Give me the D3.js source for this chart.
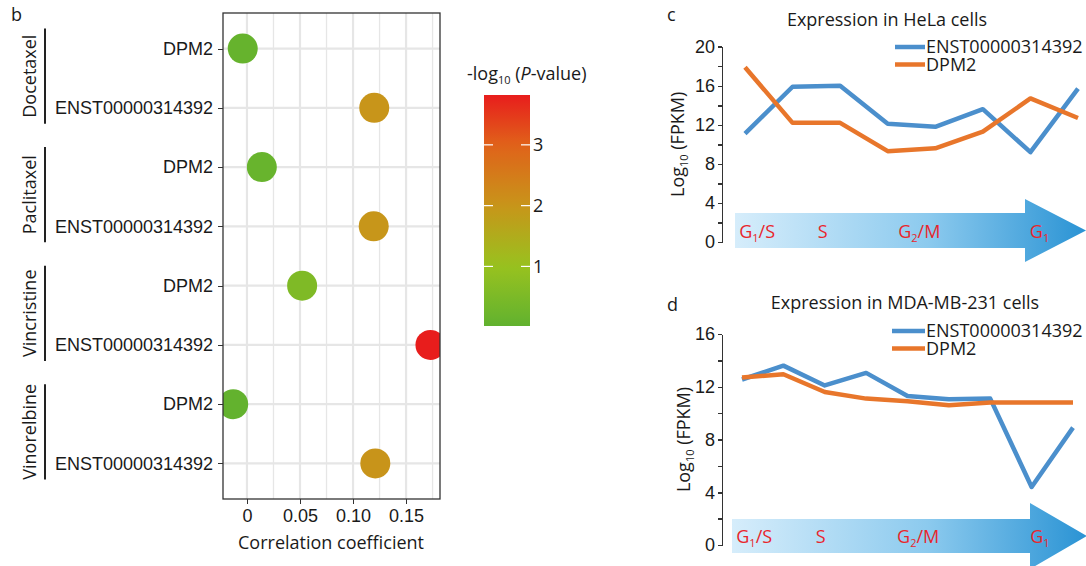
<!DOCTYPE html>
<html lang="en">
<head>
<meta charset="UTF-8">
<title>Correlation and expression</title>
<script src="https://cdnjs.cloudflare.com/ajax/libs/d3/7.8.5/d3.min.js"></script>
<style>
    body { margin: 0; background: #fff; }
    svg { display: block; font-family: "Open Sans", sans-serif; }
    .axis path, .axis line { stroke: #333; shape-rendering: crispEdges; }
    .axis text { fill: #1a1a1a; }
    .grid line { stroke: #e6e6e6; }
</style>
</head>
<body>
<script>
    // ---- data ----
    var drugs = ["Docetaxel", "Paclitaxel", "Vincristine", "Vinorelbine"];
    var genes = ["DPM2", "ENST00000314392"];
    // one value per drug x gene, in drug order then gene order
    var corr = [-0.004, 0.120, 0.014, 0.1195, 0.052, 0.173, -0.013, 0.121];
    var logP = [0.1, 2.0, 0.15, 1.98, 0.55, 3.82, 0.05, 2.02];
    var corrTicks = [0, 0.05, 0.10, 0.15];
    var pTicks = [1, 2, 3];

    var phases = [["G", "1", "/S"], ["S", "", ""], ["G", "2", "/M"], ["G", "1", ""]];
    var helaEnst = [11.1, 15.9, 16.0, 12.1, 11.8, 13.6, 9.2, 15.7];
    var helaDpm2 = [17.9, 12.2, 12.2, 9.3, 9.6, 11.3, 14.7, 12.7];
    var helaTicks = [0, 4, 8, 12, 16, 20];
    var mdaEnst = [12.55, 13.6, 12.1, 13.05, 11.3, 11.05, 11.1, 4.4, 8.9];
    var mdaDpm2 = [12.7, 12.95, 11.6, 11.1, 10.9, 10.6, 10.8, 10.8, 10.8];
    var mdaTicks = [0, 4, 8, 12, 16];

    var blue = "#4b8fcc", orange = "#e8762b", phaseRed = "#e8262c";
    var fs = 18;

    var svg = d3.select("body").append("svg")
        .attr("width", 1086).attr("height", 566);

    // ================= panel b =================
    var rows = [];
    drugs.forEach(function(d, i) {
        genes.forEach(function(g, j) {
            rows.push({ id: d + "|" + g, drug: d, gene: g, r: corr[i * 2 + j], p: logP[i * 2 + j] });
        });
    });

    var xB = d3.scaleLinear().domain([-0.0226, 0.182]).range([223, 440]);
    var yB = d3.scalePoint().domain(rows.map(function(d) { return d.id; })).range([13, 499]).padding(0.6);
    var color = d3.scaleLinear()
        .domain([0, 1, 2, 3, 3.82])
        .range(["#60b12f", "#98c21f", "#c8951a", "#e0621a", "#e81d1c"]);

    // grid
    var grid = svg.append("g").attr("class", "grid");
    var minor = corrTicks.map(function(t) { return t + 0.025; });
    grid.selectAll(".gminor").data(minor).enter().append("line")
        .attr("x1", xB).attr("x2", xB).attr("y1", 13).attr("y2", 499)
        .attr("stroke-width", 1.3);
    grid.selectAll(".gmajor").data(corrTicks).enter().append("line")
        .attr("x1", xB).attr("x2", xB).attr("y1", 13).attr("y2", 499)
        .attr("stroke-width", 2.2);
    grid.selectAll(".grow").data(rows).enter().append("line")
        .attr("x1", 223).attr("x2", 440)
        .attr("y1", function(d) { return yB(d.id); })
        .attr("y2", function(d) { return yB(d.id); })
        .attr("stroke-width", 2.2);

    svg.append("clipPath").attr("id", "clipB")
        .append("rect").attr("x", 223).attr("y", 13).attr("width", 217).attr("height", 486);

    svg.append("g").attr("clip-path", "url(#clipB)")
        .selectAll("circle").data(rows).enter().append("circle")
        .attr("cx", function(d) { return xB(d.r); })
        .attr("cy", function(d) { return yB(d.id); })
        .attr("r", 15)
        .attr("fill", function(d) { return color(d.p); });

    svg.append("rect").attr("x", 223).attr("y", 13).attr("width", 217).attr("height", 486)
        .attr("fill", "none").attr("stroke", "#333").attr("stroke-width", 1.3);

    svg.append("g").attr("class", "axis")
        .attr("transform", "translate(0,499)")
        .call(d3.axisBottom(xB).tickValues(corrTicks).tickSize(5).tickPadding(5)
            .tickFormat(function(d) { return d === 0 ? "0" : d3.format(".2f")(d); }))
        .call(function(g) { g.select(".domain").remove(); })
        .selectAll("text").style("font-size", fs + "px");

    svg.append("g").attr("class", "axis")
        .attr("transform", "translate(223,0)")
        .call(d3.axisLeft(yB).tickSize(5).tickPadding(5)
            .tickFormat(function(d) { return d.split("|")[1]; }))
        .call(function(g) { g.select(".domain").remove(); })
        .selectAll("text").style("font-size", fs + "px");

    svg.append("text").attr("x", 331).attr("y", 549).attr("text-anchor", "middle")
        .style("font-size", fs + "px").attr("fill", "#1a1a1a").text("Correlation coefficient");

    // drug brackets
    drugs.forEach(function(d) {
        var y0 = yB(d + "|" + genes[0]), y1 = yB(d + "|" + genes[1]);
        svg.append("line").attr("x1", 45).attr("x2", 45)
            .attr("y1", y0 - 20).attr("y2", y1 + 16)
            .attr("stroke", "#222").attr("stroke-width", 2);
        svg.append("text")
            .attr("transform", "translate(36," + ((y0 + y1) / 2 - 2) + ") rotate(-90)")
            .attr("text-anchor", "middle")
            .style("font-size", fs + "px").attr("fill", "#1a1a1a").text(d);
    });

    svg.append("text").attr("x", 11).attr("y", 21).style("font-size", fs + "px").attr("fill", "#1a1a1a").text("b");

    // colour bar
    var yP = d3.scaleLinear().domain([0.02, 3.82]).range([326, 95]);
    var grad = svg.append("defs").append("linearGradient").attr("id", "pgrad")
        .attr("x1", 0).attr("y1", 1).attr("x2", 0).attr("y2", 0);
    d3.range(0, 1.0001, 0.05).forEach(function(t) {
        var v = 0.02 + t * 3.8;
        grad.append("stop").attr("offset", t).attr("stop-color", color(v));
    });
    svg.append("rect").attr("x", 484).attr("y", 95).attr("width", 46).attr("height", 231)
        .attr("fill", "url(#pgrad)");
    pTicks.forEach(function(t) {
        svg.append("line").attr("x1", 484).attr("x2", 493).attr("y1", yP(t)).attr("y2", yP(t))
            .attr("stroke", "#fff").attr("stroke-width", 1.2);
        svg.append("line").attr("x1", 521).attr("x2", 530).attr("y1", yP(t)).attr("y2", yP(t))
            .attr("stroke", "#fff").attr("stroke-width", 1.2);
        svg.append("text").attr("x", 533).attr("y", yP(t)).attr("dy", "0.35em")
            .style("font-size", fs + "px").attr("fill", "#1a1a1a").text(t);
    });
    var lt = svg.append("text").attr("x", 467).attr("y", 80)
        .style("font-size", fs + "px").attr("fill", "#1a1a1a");
    lt.append("tspan").text("-log");
    lt.append("tspan").attr("dy", 4).style("font-size", "11px").text("10");
    lt.append("tspan").attr("dy", -4).text(" (");
    lt.append("tspan").style("font-style", "italic").text("P");
    lt.append("tspan").text("-value)");

    // ================= panels c and d =================
    function subText(sel, parts, size) {
        sel.append("tspan").text(parts[0]);
        if (parts[1]) sel.append("tspan").attr("dy", 4).style("font-size", Math.round(size * 0.62) + "px").text(parts[1]);
        if (parts[2]) sel.append("tspan").attr("dy", parts[1] ? -4 : 0).text(parts[2]);
    }

    function linePanel(o) {
        var x = d3.scaleLinear().domain([0, o.enst.length - 1]).range(o.xr);
        var y = d3.scaleLinear().domain([0, d3.max(o.ticks)]).range(o.yr);
        var g = svg.append("g");

        // cell cycle arrow
        var a = o.arrow;
        var gid = "arr" + o.key;
        var ag = svg.append("defs").append("linearGradient").attr("id", gid)
            .attr("gradientUnits", "userSpaceOnUse")
            .attr("x1", a.x0).attr("x2", a.tip).attr("y1", 0).attr("y2", 0);
        ag.append("stop").attr("offset", 0).attr("stop-color", "#d6edfb");
        ag.append("stop").attr("offset", 0.55).attr("stop-color", "#8ccaee");
        ag.append("stop").attr("offset", 1).attr("stop-color", "#2a93d4");
        var mid = (a.top + a.bot) / 2;
        g.append("path")
            .attr("d", d3.line()([[a.x0, a.top], [a.head, a.top], [a.head, a.htop], [a.tip, mid],
                [a.head, 2 * mid - a.htop], [a.head, a.bot], [a.x0, a.bot]]) + "Z")
            .attr("fill", "url(#" + gid + ")");
        var fr = [0.012, 0.236, 0.465, 0.84];
        phases.forEach(function(p, i) {
            var t = g.append("text").attr("x", a.x0 + fr[i] * (a.tip - a.x0)).attr("y", mid + 7)
                .style("font-size", fs + "px").attr("fill", phaseRed);
            subText(t, p, fs);
        });

        // axis
        var minorT = o.ticks.slice(1).map(function(t) { return t - 2; });
        g.append("g").attr("class", "axis").attr("transform", "translate(" + o.ax + ",0)")
            .call(d3.axisLeft(y).tickValues(minorT).tickSize(4).tickFormat(""))
            .call(function(s) { s.select(".domain").remove(); });
        g.append("g").attr("class", "axis").attr("transform", "translate(" + o.ax + ",0)")
            .call(d3.axisLeft(y).tickValues(o.ticks).tickSize(4).tickSizeOuter(0).tickPadding(3))
            .selectAll("text").style("font-size", fs + "px");
        g.selectAll(".axis path, .axis line").attr("stroke-width", 1.5);

        var yl = g.append("text")
            .attr("transform", "translate(" + o.ylx + "," + ((o.yr[0] + o.yr[1]) / 2) + ") rotate(-90)")
            .attr("text-anchor", "middle").style("font-size", fs + "px").attr("fill", "#1a1a1a");
        yl.append("tspan").text("Log");
        yl.append("tspan").attr("dy", 4).style("font-size", "11px").text("10");
        yl.append("tspan").attr("dy", -4).text(" (FPKM)");

        // lines
        var line = d3.line().x(function(d, i) { return x(i); }).y(function(d) { return y(d); });
        [[o.enst, blue], [o.dpm2, orange]].forEach(function(s) {
            g.append("path").datum(s[0]).attr("d", line)
                .attr("fill", "none").attr("stroke", s[1]).attr("stroke-width", 4.5)
                .attr("stroke-linejoin", "round");
        });

        // legend
        [["ENST00000314392", blue], ["DPM2", orange]].forEach(function(s, i) {
            var ly = o.legY + i * 17.5;
            g.append("line").attr("x1", o.legX).attr("x2", 925).attr("y1", ly).attr("y2", ly)
                .attr("stroke", s[1]).attr("stroke-width", 4.5);
            g.append("text").attr("x", 926).attr("y", ly).attr("dy", "0.36em")
                .style("font-size", fs + "px").attr("fill", "#1a1a1a").text(s[0]);
        });

        g.append("text").attr("x", o.titleX).attr("y", o.titleY).attr("text-anchor", "middle")
            .style("font-size", fs + "px").attr("fill", "#1a1a1a").text(o.title);
        g.append("text").attr("x", 667).attr("y", o.letterY)
            .style("font-size", fs + "px").attr("fill", "#1a1a1a").text(o.key);
    }

    linePanel({
        key: "c", title: "Expression in HeLa cells", titleX: 887, titleY: 26, letterY: 21,
        enst: helaEnst, dpm2: helaDpm2, ticks: helaTicks,
        xr: [745, 1078], yr: [242, 46.7], ax: 722, ylx: 684,
        legX: 895, legY: 47,
        arrow: { x0: 735, head: 1025, tip: 1086, top: 213, bot: 248, htop: 199 }
    });

    linePanel({
        key: "d", title: "Expression in MDA-MB-231 cells", titleX: 905, titleY: 309, letterY: 311,
        enst: mdaEnst, dpm2: mdaDpm2, ticks: mdaTicks,
        xr: [742, 1073], yr: [545, 334], ax: 722, ylx: 690,
        legX: 892, legY: 331,
        arrow: { x0: 732, head: 1030, tip: 1087, top: 519, bot: 553, htop: 503 }
    });
</script>
</body>
</html>
